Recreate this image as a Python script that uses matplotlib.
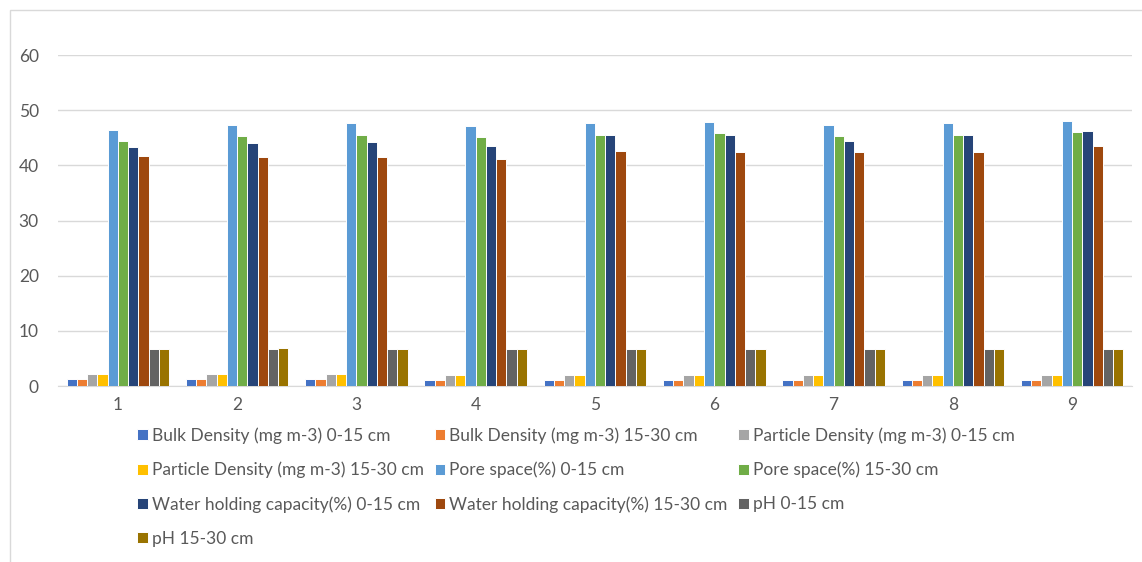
import matplotlib.pyplot as plt
import numpy as np
from matplotlib.patches import Rectangle

plt.rcParams['font.family'] = ['Lato', 'DejaVu Sans']

samples = ['1', '2', '3', '4', '5', '6', '7', '8', '9']

bd_0_15 = [1.2, 1.2, 1.2, 1.15, 1.15, 1.15, 1.15, 1.15, 1.1]
bd_15_30 = [1.2, 1.2, 1.2, 1.15, 1.15, 1.15, 1.15, 1.15, 1.1]
pd_0_15 = [2.2, 2.2, 2.2, 2.1, 2.1, 2.1, 2.05, 2.05, 2.05]
pd_15_30 = [2.2, 2.2, 2.2, 2.1, 2.1, 2.1, 2.05, 2.05, 2.05]
pore_0_15 = [46.4, 47.3, 47.6, 47.2, 47.6, 47.9, 47.3, 47.6, 48.0]
pore_15_30 = [44.4, 45.3, 45.5, 45.2, 45.6, 45.9, 45.3, 45.6, 46.1]
whc_0_15 = [43.4, 44.0, 44.3, 43.5, 45.6, 45.6, 44.4, 45.6, 46.2]
whc_15_30 = [41.7, 41.6, 41.5, 41.2, 42.6, 42.5, 42.4, 42.5, 43.6]
ph_0_15 = [6.8, 6.8, 6.8, 6.7, 6.8, 6.8, 6.7, 6.7, 6.7]
ph_15_30 = [6.8, 6.9, 6.8, 6.7, 6.8, 6.8, 6.7, 6.7, 6.7]

series = [
    ('Bulk Density (mg m-3) 0-15 cm', bd_0_15, '#4472C4'),
    ('Bulk Density (mg m-3) 15-30 cm', bd_15_30, '#ED7D31'),
    ('Particle Density (mg m-3) 0-15 cm', pd_0_15, '#A5A5A5'),
    ('Particle Density (mg m-3) 15-30 cm', pd_15_30, '#FFC000'),
    ('Pore space(%) 0-15 cm', pore_0_15, '#5B9BD5'),
    ('Pore space(%) 15-30 cm', pore_15_30, '#70AD47'),
    ('Water holding capacity(%) 0-15 cm', whc_0_15, '#264478'),
    ('Water holding capacity(%) 15-30 cm', whc_15_30, '#9E480E'),
    ('pH 0-15 cm', ph_0_15, '#636363'),
    ('pH 15-30 cm', ph_15_30, '#997300'),
]

fig = plt.figure(figsize=(11.42, 5.62), dpi=100)
ax = fig.add_axes([0.051, 0.313, 0.94, 0.589])

# outer chart frame
fig.patches.append(Rectangle((10 / 1142, -0.1), 1.2, 1 - 10 / 562 + 0.1,
                             transform=fig.transFigure, fill=False,
                             edgecolor='#d9d9d9', linewidth=1))

x = np.arange(len(samples))
n = len(series)
slot = 0.86 / n
handles = []
for i, (name, vals, color) in enumerate(series):
    pos = x - 0.43 + slot * (i + 0.5)
    h = ax.bar(pos, vals, width=slot, color=color, edgecolor='white',
               linewidth=0.7, label=name, zorder=3)
    handles.append(h)

ax.set_xlim(-0.5, len(samples) - 0.5)
ax.set_ylim(0, 60)
ax.set_yticks(np.arange(0, 61, 10))
ax.set_xticks(x)
ax.set_xticklabels(samples)
ax.grid(axis='y', color='#d9d9d9', linewidth=1, zorder=0)
for s in ['top', 'right', 'left']:
    ax.spines[s].set_visible(False)
ax.spines['bottom'].set_color('#d9d9d9')
ax.tick_params(length=0, labelsize=12.5, colors='#595959', pad=8)
ax.tick_params(axis='y', pad=14)

order = [0, 3, 6, 9, 1, 4, 7, 2, 5, 8]
ax.legend([handles[k] for k in order], [series[k][0] for k in order],
          ncol=3, loc='upper left', bbox_to_anchor=(0.064, -0.093),
          frameon=False, fontsize=12.5, labelcolor='#595959',
          handlelength=0.6, handleheight=0.6, handletextpad=0.25,
          columnspacing=0.6, labelspacing=1.03, borderaxespad=0.2)

fig.savefig('out.png', dpi=100)
